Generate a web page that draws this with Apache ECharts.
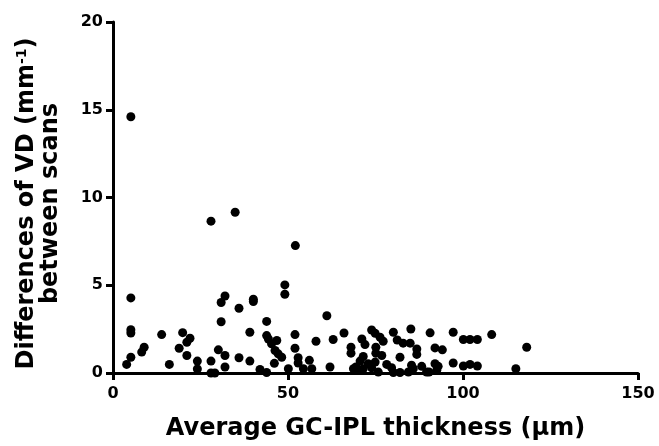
<!DOCTYPE html>
<html>
<head>
<meta charset="utf-8">
<script src="https://cdn.jsdelivr.net/npm/echarts@6/dist/echarts.min.js"></script>
<style>
html,body{margin:0;padding:0;background:#fff;}
#chart{width:659px;height:446px;}
</style>
</head>
<body>
<div id="chart"></div>
<script>
// Average GC-IPL thickness (µm)
const xVals = [5.1,28.0,34.9,52.1,5.1,5.1,5.1,5.1,3.9,8.2,8.9,13.9,16.1,19.9,22.0,21.1,18.9,21.1,24.1,24.1,28.0,28.0,29.1,
  49.1,49.1,32.0,30.9,36.0,40.1,40.1,30.9,43.9,39.1,43.9,44.4,46.8,45.3,46.3,47.2,48.2,52.0,52.0,58.0,61.1,30.1,32.0,32.0,
  36.0,39.1,42.0,43.9,46.1,50.1,52.9,52.9,56.1,54.4,56.8,62.9,66.0,62.0,68.0,68.0,71.1,72.0,73.9,74.9,76.3,77.2,75.1,75.1,
  71.5,70.6,69.4,70.4,76.8,80.1,81.2,82.9,84.9,85.1,86.8,86.8,82.0,88.2,90.6,92.0,94.1,97.2,100.1,102.0,104.1,108.2,118.2,
  92.0,92.9,97.2,100.1,102.0,104.1,115.1,89.6,90.3,72.9,73.9,75.8,78.2,79.6,80.1,82.0,84.4,85.8,68.7,74.9,85.3,92.5,71.5];
// Differences of VD between scans (mm^-1)
const yVals = [14.6,8.65,9.16,7.26,4.28,2.47,2.28,0.9,0.49,1.19,1.47,2.19,0.49,2.3,1.98,1.75,1.41,1.0,0.68,0.23,0.68,0.0,0.0,
  5.02,4.49,4.39,4.02,3.69,4.2,4.07,2.92,2.94,2.32,2.13,1.94,1.85,1.66,1.28,1.09,0.9,2.19,1.41,1.81,3.26,1.32,1.0,0.34,
  0.87,0.68,0.2,0.03,0.55,0.24,0.87,0.57,0.72,0.24,0.24,1.91,2.28,0.34,1.47,1.13,1.94,1.62,2.45,2.26,2.04,1.81,1.47,1.13,
  0.94,0.68,0.34,0.15,1.0,2.32,1.88,1.7,1.7,2.51,1.37,1.06,0.9,0.38,2.29,1.43,1.32,2.32,1.91,1.91,1.91,2.19,1.47,
  0.53,0.38,0.57,0.4,0.49,0.4,0.24,0.06,0.06,0.53,0.3,0.05,0.49,0.3,0.03,0.03,0.06,0.24,0.24,0.62,0.44,0.15,0.24];
const xTicks = [0, 50, 100, 150];
const yTicks = [0, 5, 10, 15, 20];

const points = xVals.map((x, i) => [x, yVals[i]]);
const FONT = '"DejaVu Sans", sans-serif';

const chart = echarts.init(document.getElementById('chart'), null, {renderer: 'canvas'});
chart.setOption({
  animation: false,
  backgroundColor: '#fff',
  grid: {left: 113, right: 21, top: 22, bottom: 70, containLabel: false},
  xAxis: {
    type: 'value',
    min: xTicks[0], max: xTicks[xTicks.length - 1], interval: xTicks[1] - xTicks[0],
    name: 'Average GC-IPL thickness (\u03bcm)',
    nameLocation: 'middle', nameGap: 44,
    nameTextStyle: {fontFamily: FONT, fontWeight: 'bold', fontSize: 24, color: '#000'},
    axisLine: {show: true, lineStyle: {color: '#000', width: 3}},
    axisTick: {show: true, inside: false, length: 7, lineStyle: {color: '#000', width: 3}},
    axisLabel: {fontFamily: FONT, fontWeight: 'bold', fontSize: 16, color: '#000', margin: 13},
    splitLine: {show: false}
  },
  yAxis: {
    type: 'value',
    min: yTicks[0], max: yTicks[yTicks.length - 1], interval: yTicks[1] - yTicks[0],
    name: '{a|Differences of VD (mm}{s|-1}{a|)}\n{a|between scans}',
    nameLocation: 'middle', nameGap: 50, nameRotate: 90,
    nameTextStyle: {
      color: '#000', lineHeight: 24, padding: [0, 12, 0, 0],
      rich: {
        a: {fontFamily: FONT, fontWeight: 'bold', fontSize: 24, color: '#000', lineHeight: 24},
        s: {fontFamily: FONT, fontWeight: 'bold', fontSize: 14, color: '#000', lineHeight: 24, verticalAlign: 'top', padding: [0,0,8,0]}
      }
    },
    axisLine: {show: true, lineStyle: {color: '#000', width: 3}},
    axisTick: {show: true, inside: false, length: 7, lineStyle: {color: '#000', width: 3}},
    axisLabel: {fontFamily: FONT, fontWeight: 'bold', fontSize: 16, color: '#000', margin: 10},
    splitLine: {show: false}
  },
  series: [{
    type: 'scatter',
    data: points,
    symbol: 'circle',
    symbolSize: 9,
    clip: false,
    itemStyle: {color: '#000', opacity: 1}
  }]
});
</script>
</body>
</html>
